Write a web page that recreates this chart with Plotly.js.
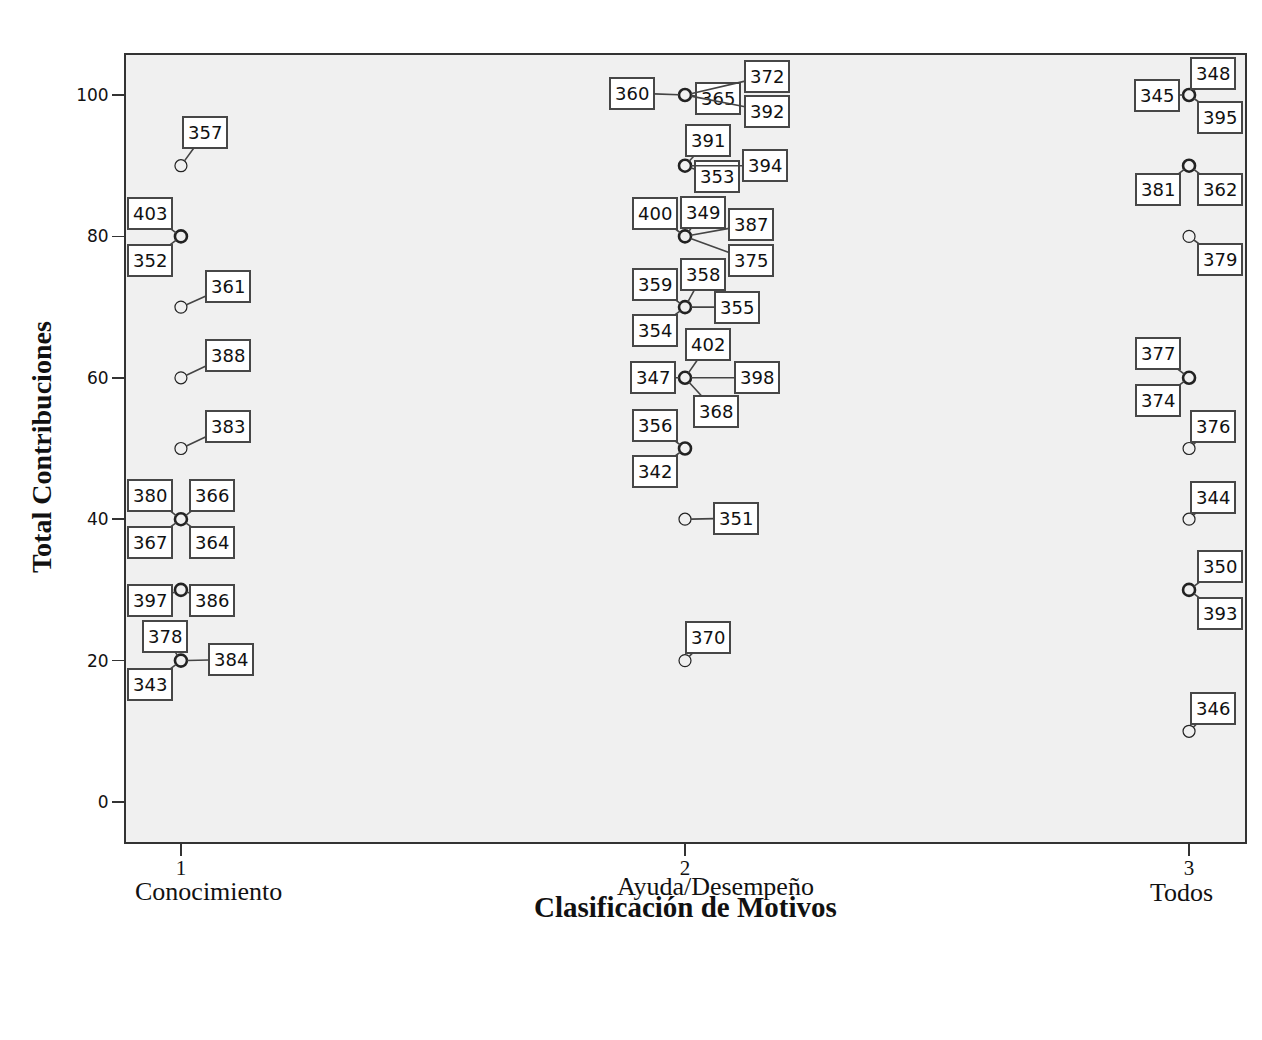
<!DOCTYPE html>
<html>
<head>
<meta charset="utf-8">
<script src="https://cdn.plot.ly/plotly-3.0.1.min.js"></script>
<style>
  body { margin: 0; background: #fff; }
  #plot { width: 1262px; height: 1040px; }
</style>
</head>
<body>
<div id="plot"></div>
<script>
// case labels, group (1..3) and Total Contribuciones per case
var caseId    = ["357","403","352","361","388","383","380","366","367","364","397","386","378","384","343",
                 "360","365","372","392","391","353","394","400","349","387","375","359","358","355","354",
                 "402","347","398","368","356","342","351","370",
                 "348","345","395","381","362","379","377","374","376","344","350","393","346"];
var caseGroup = [1,1,1,1,1,1,1,1,1,1,1,1,1,1,1,
                 2,2,2,2,2,2,2,2,2,2,2,2,2,2,2,
                 2,2,2,2,2,2,2,2,
                 3,3,3,3,3,3,3,3,3,3,3,3,3];
var caseValue = [90,80,80,70,60,50,40,40,40,40,30,30,20,20,20,
                 100,100,100,100,90,90,90,80,80,80,80,70,70,70,70,
                 60,60,60,60,50,50,40,20,
                 100,100,100,90,90,80,60,60,50,40,30,30,10];

// label box offsets from the point (pixels)
var labelDx = [24,-31,-31,47,47,47,-31,31,-31,31,-31,31,-16,50,-31,
               -53,33,82,82,23,32,80,-30,18,66,66,-30,18,52,-30,
               23,-32,72,31,-30,-30,51,23,
               24,-32,31,-31,31,31,-31,-31,24,24,31,31,24];
var labelDy = [-33,-23,24,-21,-22,-22,-24,-24,23,23,11,11,-24,-1,24,
               -2,3,-19,16,-25,11,0,-23,-24,-12,24,-23,-33,0,23,
               -33,0,0,34,-23,23,-1,-23,
               -22,0,22,24,24,23,-24,23,-22,-22,-23,24,-23];

var groupTicks = [1, 2, 3];
var groupNames = ["Conocimiento", "Ayuda/Desempeño", "Todos"];
var groupNameShift = [28, 30, -8];
var groupNameY = [-0.0635, -0.057, -0.0648];
var yTicks = [0, 20, 40, 60, 80, 100];

// unique points, bolder outline where several cases overlap
var px = [], py = [], pw = [];
var seen = {};
caseId.forEach(function(id, i) {
  var key = caseGroup[i] + "_" + caseValue[i];
  if (!(key in seen)) {
    seen[key] = px.length;
    px.push(caseGroup[i]);
    py.push(caseValue[i]);
    pw.push(1.2);
  } else {
    pw[seen[key]] = 2.6;
  }
});

var trace = {
  type: "scatter",
  mode: "markers",
  x: px,
  y: py,
  cliponaxis: false,
  hoverinfo: "none",
  marker: {
    symbol: "circle-open",
    size: 12,
    color: "#222",
    line: { width: pw, color: "#222" }
  }
};

var annotations = [];
caseId.forEach(function(id, i) {
  annotations.push({
    x: caseGroup[i],
    y: caseValue[i],
    xref: "x",
    yref: "y",
    text: id,
    showarrow: true,
    arrowhead: 0,
    arrowwidth: 1.6,
    arrowcolor: "#444",
    standoff: 6,
    ax: labelDx[i],
    ay: labelDy[i],
    bgcolor: "#ffffff",
    bordercolor: "#474747",
    borderwidth: 2,
    borderpad: 4,
    font: { family: "DejaVu Sans", size: 18, color: "#111" }
  });
});

groupNames.forEach(function(name, i) {
  annotations.push({
    x: groupTicks[i],
    y: groupNameY[i],
    xref: "x",
    yref: "paper",
    xanchor: "center",
    yanchor: "middle",
    xshift: groupNameShift[i],
    text: name,
    showarrow: false,
    font: { family: "Liberation Serif", size: 26, color: "#111" }
  });
});

annotations.push({
  x: 0.5004, y: -0.0826, xref: "paper", yref: "paper",
  xanchor: "center", yanchor: "middle",
  text: "<b>Clasificación de Motivos</b>", showarrow: false,
  font: { family: "Liberation Serif", size: 29, color: "#111" }
});
annotations.push({
  x: -0.075, y: 0.502, xref: "paper", yref: "paper",
  xanchor: "center", yanchor: "middle",
  text: "<b>Total Contribuciones</b>", showarrow: false, textangle: -90,
  font: { family: "Liberation Serif", size: 28, color: "#111" }
});

var layout = {
  width: 1262,
  height: 1040,
  margin: { l: 126, r: 17, t: 55, b: 198 },
  paper_bgcolor: "#ffffff",
  plot_bgcolor: "#f0f0f0",
  showlegend: false,
  xaxis: {
    range: [0.891, 3.111],
    tickvals: groupTicks,
    ticktext: groupTicks.map(String),
    ticks: "outside",
    ticklen: 12,
    tickwidth: 1.5,
    tickcolor: "#333",
    ticklabelstandoff: -6,
    showgrid: false,
    zeroline: false,
    showline: true,
    linecolor: "#333",
    linewidth: 2,
    mirror: true,
    tickfont: { family: "Liberation Serif", size: 21, color: "#111" }
  },
  yaxis: {
    range: [-5.66, 105.66],
    tickvals: yTicks,
    ticks: "outside",
    ticklen: 12,
    tickwidth: 1.5,
    tickcolor: "#333",
    showgrid: false,
    zeroline: false,
    showline: true,
    linecolor: "#333",
    linewidth: 2,
    mirror: true,
    tickfont: { family: "DejaVu Sans", size: 17, color: "#111" }
  },
  annotations: annotations
};

Plotly.newPlot("plot", [trace], layout, { displayModeBar: false, staticPlot: true });
</script>
</body>
</html>
